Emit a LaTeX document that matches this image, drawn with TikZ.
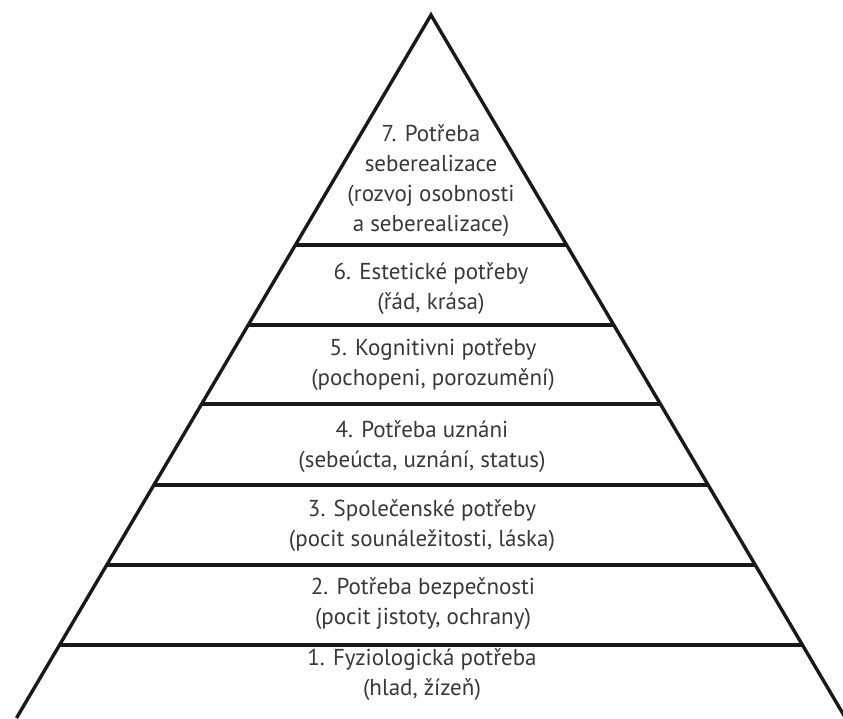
\documentclass[tikz,border=0pt]{standalone}
\usepackage{fontspec}
\setmainfont{PT Sans}
\begin{document}
\begin{tikzpicture}[x=1pt,y=-1pt,
  edge/.style={line width=3.4pt, black!90, line join=miter},
  lbl/.style={align=center, font=\fontsize{23}{30}\selectfont, text=black!78, inner sep=0pt}]
\useasboundingbox (0,0) rectangle (843,718);
\clip (0,0) rectangle (843,718);
% pyramid corners
\coordinate (apex) at (431,15);
\coordinate (bl) at (16.5,718);
\coordinate (br) at (845.5,718);
\draw[edge] (bl) -- (apex) -- (br);
% level dividers
\foreach \n/\y/\d in {a/245/135.6, b/325/182.8, c/404/229.4, d/485/277.2, e/565/324.3, f/645/371.5}{
  \coordinate (\n L) at ({431-\d},\y);
  \coordinate (\n R) at ({431+\d},\y);
}
\foreach \n in {a,b,c,d,e,f}{ \draw[edge] (\n L) -- (\n R); }
% labels
\node[lbl] (l7) at (431,181) {7. Potřeba\\seberealizace\\(rozvoj osobnosti\\a seberealizace)};
\node[lbl] (l6) at (431,289) {6. Estetické potřeby\\(řád, krása)};
\node[lbl] (l5) at (433,365) {5. Kognitivni potřeby\\(pochopeni, porozumění)};
\node[lbl] (l4) at (422,447) {4. Potřeba uznáni\\(sebeúcta, uznání, status)};
\node[lbl] (l3) at (422,526) {3. Společenské potřeby\\(pocit sounáležitosti, láska)};
\node[lbl] (l2) at (423,604) {2. Potřeba bezpečnosti\\(pocit jistoty, ochrany)};
\node[lbl] (l1) at (422,675) {1. Fyziologická potřeba\\(hlad, žízeň)};
\end{tikzpicture}
\end{document}
